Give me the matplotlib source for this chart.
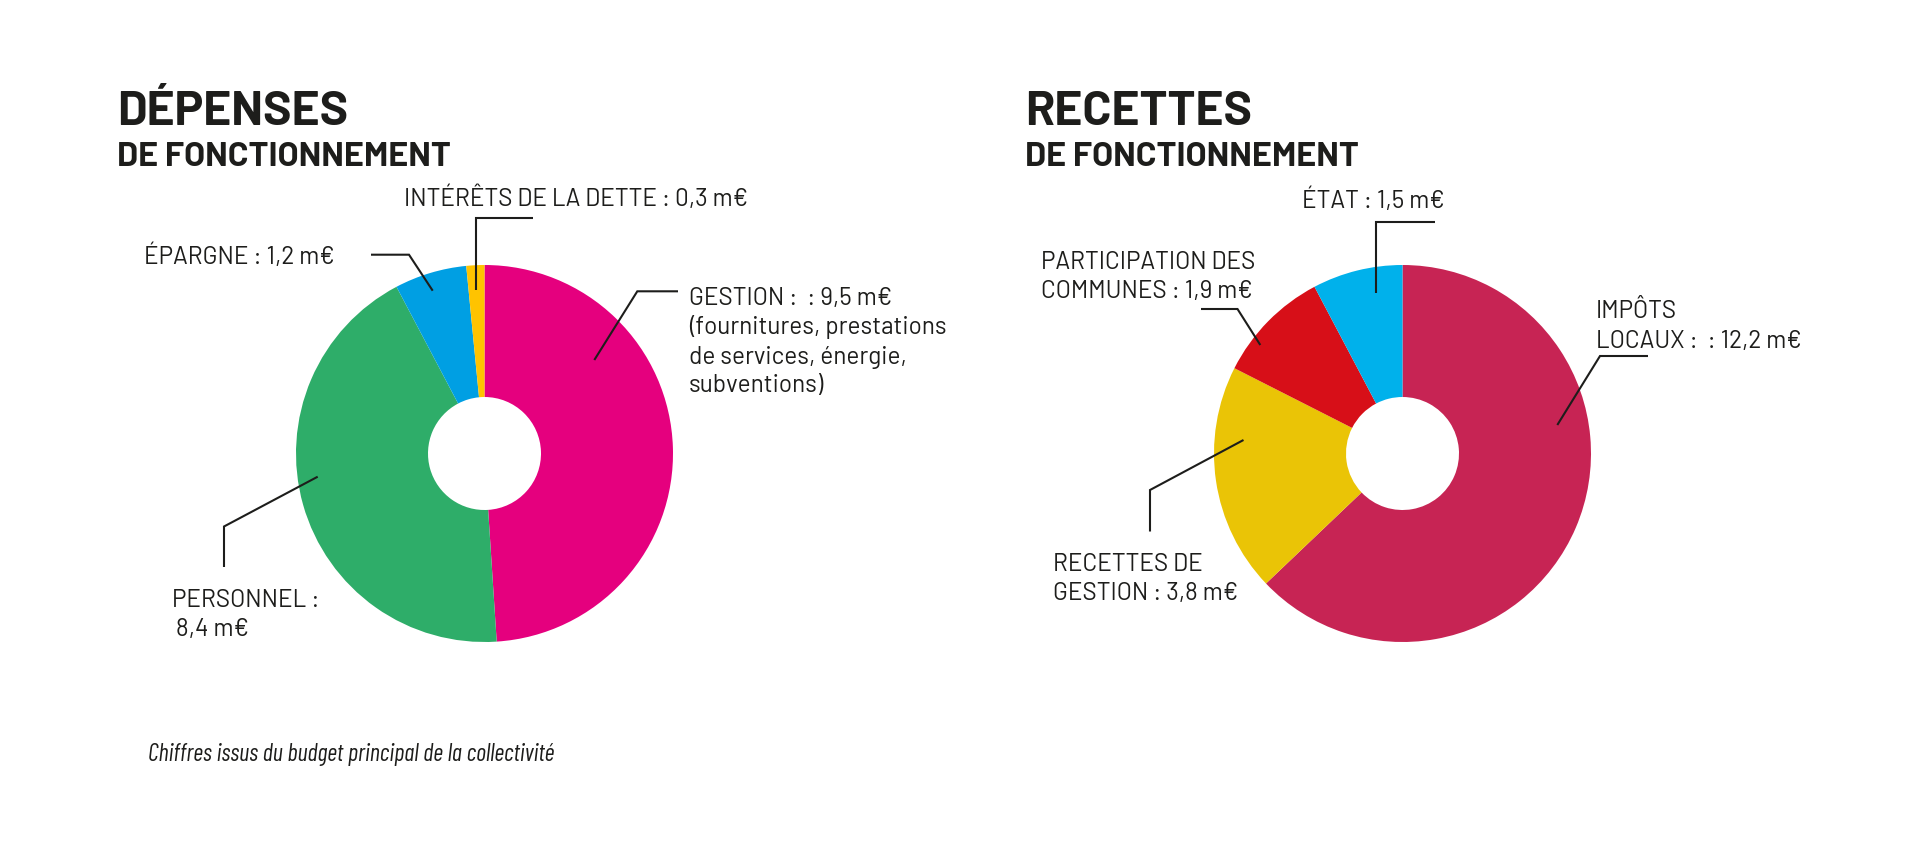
import matplotlib
matplotlib.use("Agg")
import matplotlib.pyplot as plt

# ---------------- data ----------------
dep_labels = ["GESTION", "PERSONNEL", "ÉPARGNE", "INTÉRÊTS DE LA DETTE"]
dep_values = [9.5, 8.4, 1.2, 0.3]
dep_colors = ["#E5007E", "#2EAD69", "#009FE3", "#FFC300"]

rec_labels = ["IMPÔTS LOCAUX", "RECETTES DE GESTION", "PARTICIPATION DES COMMUNES", "ÉTAT"]
rec_values = [12.2, 3.8, 1.9, 1.5]
rec_colors = ["#C72454", "#EAC406", "#D70F18", "#00B1EB"]

FAM = ["Barlow", "Barlow Semi Condensed", "DejaVu Sans"]
FAM_NOTE = ["Barlow Condensed", "Barlow Semi Condensed", "DejaVu Sans"]

W, H = 1920, 846
fig = plt.figure(figsize=(W / 100, H / 100), dpi=100)
ax = fig.add_axes([0, 0, 1, 1])

def Y(y):
    return H - y

R = 188.5
HOLE = 56.5
ax.pie(dep_values, colors=dep_colors, startangle=90, counterclock=False,
       radius=R, center=(484.5, Y(453.5)),
       wedgeprops=dict(width=R - HOLE, edgecolor="none", linewidth=0))
ax.pie(rec_values, colors=rec_colors, startangle=90, counterclock=False,
       radius=R, center=(1402.5, Y(453.5)),
       wedgeprops=dict(width=R - HOLE, edgecolor="none", linewidth=0))
ax.set_xlim(0, W)
ax.set_ylim(0, H)
ax.set_aspect("auto")
ax.axis("off")

TXT = "#1D1D1B"

def t(x, y, s, size, weight="normal", style="normal", fam=FAM):
    ax.text(x, Y(y), s, fontsize=size, fontweight=weight, fontstyle=style,
            family=fam, color=TXT, ha="left", va="baseline")

def line(pts):
    xs = [p[0] for p in pts]
    ys = [Y(p[1]) for p in pts]
    ax.plot(xs, ys, color=TXT, lw=1.5, solid_capstyle="butt", solid_joinstyle="miter")

# titles
t(117, 125, "DÉPENSES", 34.5, "bold")
t(117, 166, "DE FONCTIONNEMENT", 24.5, "bold")
t(1025, 125, "RECETTES", 34.5, "bold")
t(1025, 166, "DE FONCTIONNEMENT", 24.5, "bold")

LS = 17.5
# left labels
t(404, 206, "INTÉRÊTS DE LA DETTE : 0,3 m€", LS)
line([(533, 218), (476, 218), (476, 290)])
t(144, 264, "ÉPARGNE : 1,2 m€", LS)
line([(371, 254.7), (409, 254.7), (432.7, 290.7)])
t(689, 305, "GESTION :  : 9,5 m€", LS)
t(689, 334, "(fournitures, prestations", LS)
t(689, 363.5, "de services, énergie,", LS)
t(689, 392, "subventions)", LS)
line([(678, 291.3), (637.3, 291.3), (594.3, 360)])
t(172, 607, "PERSONNEL :", LS)
t(176, 636, "8,4 m€", LS)
line([(224, 567), (224, 526.5), (317.7, 476.7)])

# right labels
t(1301.6, 208, "ÉTAT : 1,5 m€", LS)
line([(1435, 221.6), (1375.5, 221.6), (1375.5, 292.7)])
t(1041, 269.4, "PARTICIPATION DES", LS)
t(1041, 297.5, "COMMUNES : 1,9 m€", LS)
line([(1201, 309), (1237.5, 309), (1260.3, 345)])
t(1053, 570.7, "RECETTES DE", LS)
t(1053, 600, "GESTION : 3,8 m€", LS)
line([(1150, 531.5), (1150, 490), (1243.5, 440)])
t(1595.5, 318.4, "IMPÔTS", LS)
t(1595.5, 347.8, "LOCAUX :  : 12,2 m€", LS)
line([(1648, 356), (1600, 356), (1557.3, 425)])

# footnote
t(148, 761, "Chiffres issus du budget principal de la collectivité", 17.5,
  style="italic", fam=FAM_NOTE)

fig.savefig("out.png", dpi=100, facecolor="white")
